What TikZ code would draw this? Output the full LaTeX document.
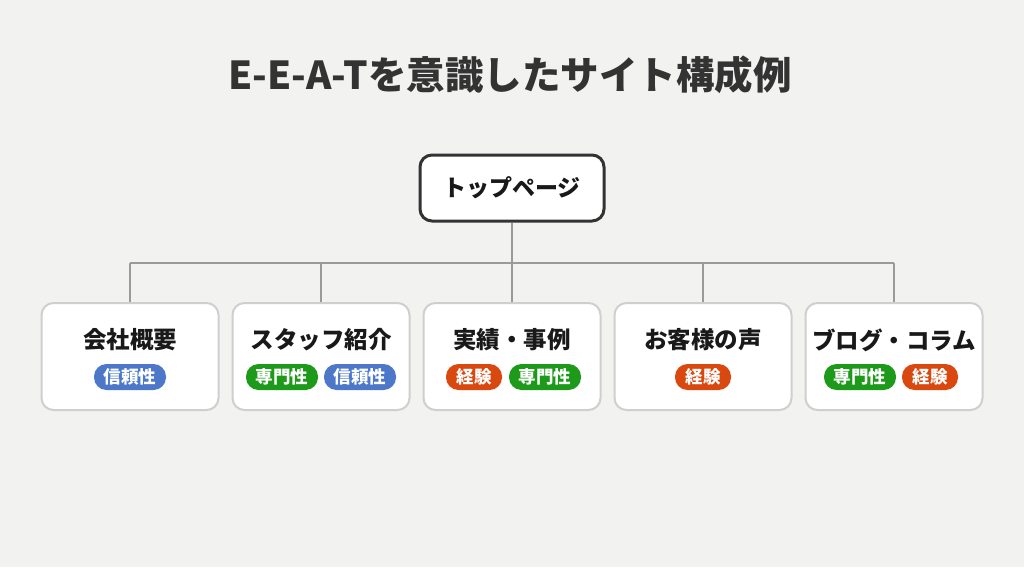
\documentclass[tikz,border=0pt]{standalone}
\usepackage{fontspec}
\newfontfamily\jp{Noto Sans CJK JP}
\definecolor{bg}{HTML}{F2F2F0}
\definecolor{titlec}{HTML}{333333}
\definecolor{linec}{HTML}{9A9A9A}
\definecolor{boxc}{HTML}{CFCFCF}
\definecolor{bblue}{HTML}{4D78C9}
\definecolor{bgreen}{HTML}{1E9A1A}
\definecolor{borange}{HTML}{D9480F}
\tikzset{
  page/.style={x=1pt,y=1pt},
  topbox/.style={draw=titlec,line width=3pt,fill=white,rounded corners=12pt,minimum width=184pt,minimum height=66pt,inner sep=0pt},
  catbox/.style={draw=boxc,line width=2pt,fill=white,rounded corners=12pt,minimum width=177pt,minimum height=107pt,inner sep=0pt},
  cattext/.style={font=\jp\bfseries\fontsize{23.5}{25}\selectfont,text=black!90,inner sep=0pt},
  badge/.style={rounded corners=12.5pt,minimum height=26pt,inner sep=0pt,text=white,font=\jp\bfseries\fontsize{17.5}{19}\selectfont},
  bthree/.style={badge,minimum width=72pt},
  btwo/.style={badge,minimum width=56pt},
  conn/.style={draw=linec,line width=2pt},
}
\begin{document}
\begin{tikzpicture}[page]
\fill[bg] (0,0) rectangle (1024,-567);
\useasboundingbox (0,0) rectangle (1024,-567);
\node[font=\jp\bfseries\fontsize{38.5}{42}\selectfont,text=titlec] (title) at (510,-75) {E-E-A-Tを意識したサイト構成例};
\coordinate (hub) at (512,-263);
\coordinate (hl) at (130,-263);
\coordinate (hr) at (894,-263);
\foreach \n/\x in {1/130,2/321,3/512,4/703,5/894}{
  \coordinate (j\n) at (\x,-263);
}
\node[catbox] (b1) at (130,-356.5) {};
\node[catbox] (b2) at (321,-356.5) {};
\node[catbox] (b3) at (512,-356.5) {};
\node[catbox] (b4) at (703,-356.5) {};
\node[catbox] (b5) at (894,-356.5) {};
\node[topbox] (top) at (512,-188) {};
\node[font=\jp\bfseries\fontsize{23}{25}\selectfont,text=black!90] (toptext) at (top.center) {トップページ};
\draw[conn] (top.south) -- (hub);
\draw[conn] (hl) -- (hr);
\foreach \n in {1,...,5}{
  \draw[conn] (j\n) -- (b\n.north);
}
% titles
\node[cattext] (t1) at (130,-340) {会社概要};
\node[cattext] (t2) at (321,-340) {スタッフ紹介};
\node[cattext] (t3) at (512,-340) {実績・事例};
\node[cattext] (t4) at (703,-340) {お客様の声};
\node[cattext] (t5) at (894,-340) {ブログ・コラム};
% badges
\node[bthree,fill=bblue] (p1a) at (130,-377) {信頼性};
\node[bthree,fill=bgreen] (p2a) at (282,-377) {専門性};
\node[bthree,fill=bblue] (p2b) at (360,-377) {信頼性};
\node[btwo,fill=borange] (p3a) at (474,-377) {経験};
\node[bthree,fill=bgreen] (p3b) at (545,-377) {専門性};
\node[btwo,fill=borange] (p4a) at (703,-377) {経験};
\node[bthree,fill=bgreen] (p5a) at (860,-377) {専門性};
\node[btwo,fill=borange] (p5b) at (930,-377) {経験};
\end{tikzpicture}
\end{document}
